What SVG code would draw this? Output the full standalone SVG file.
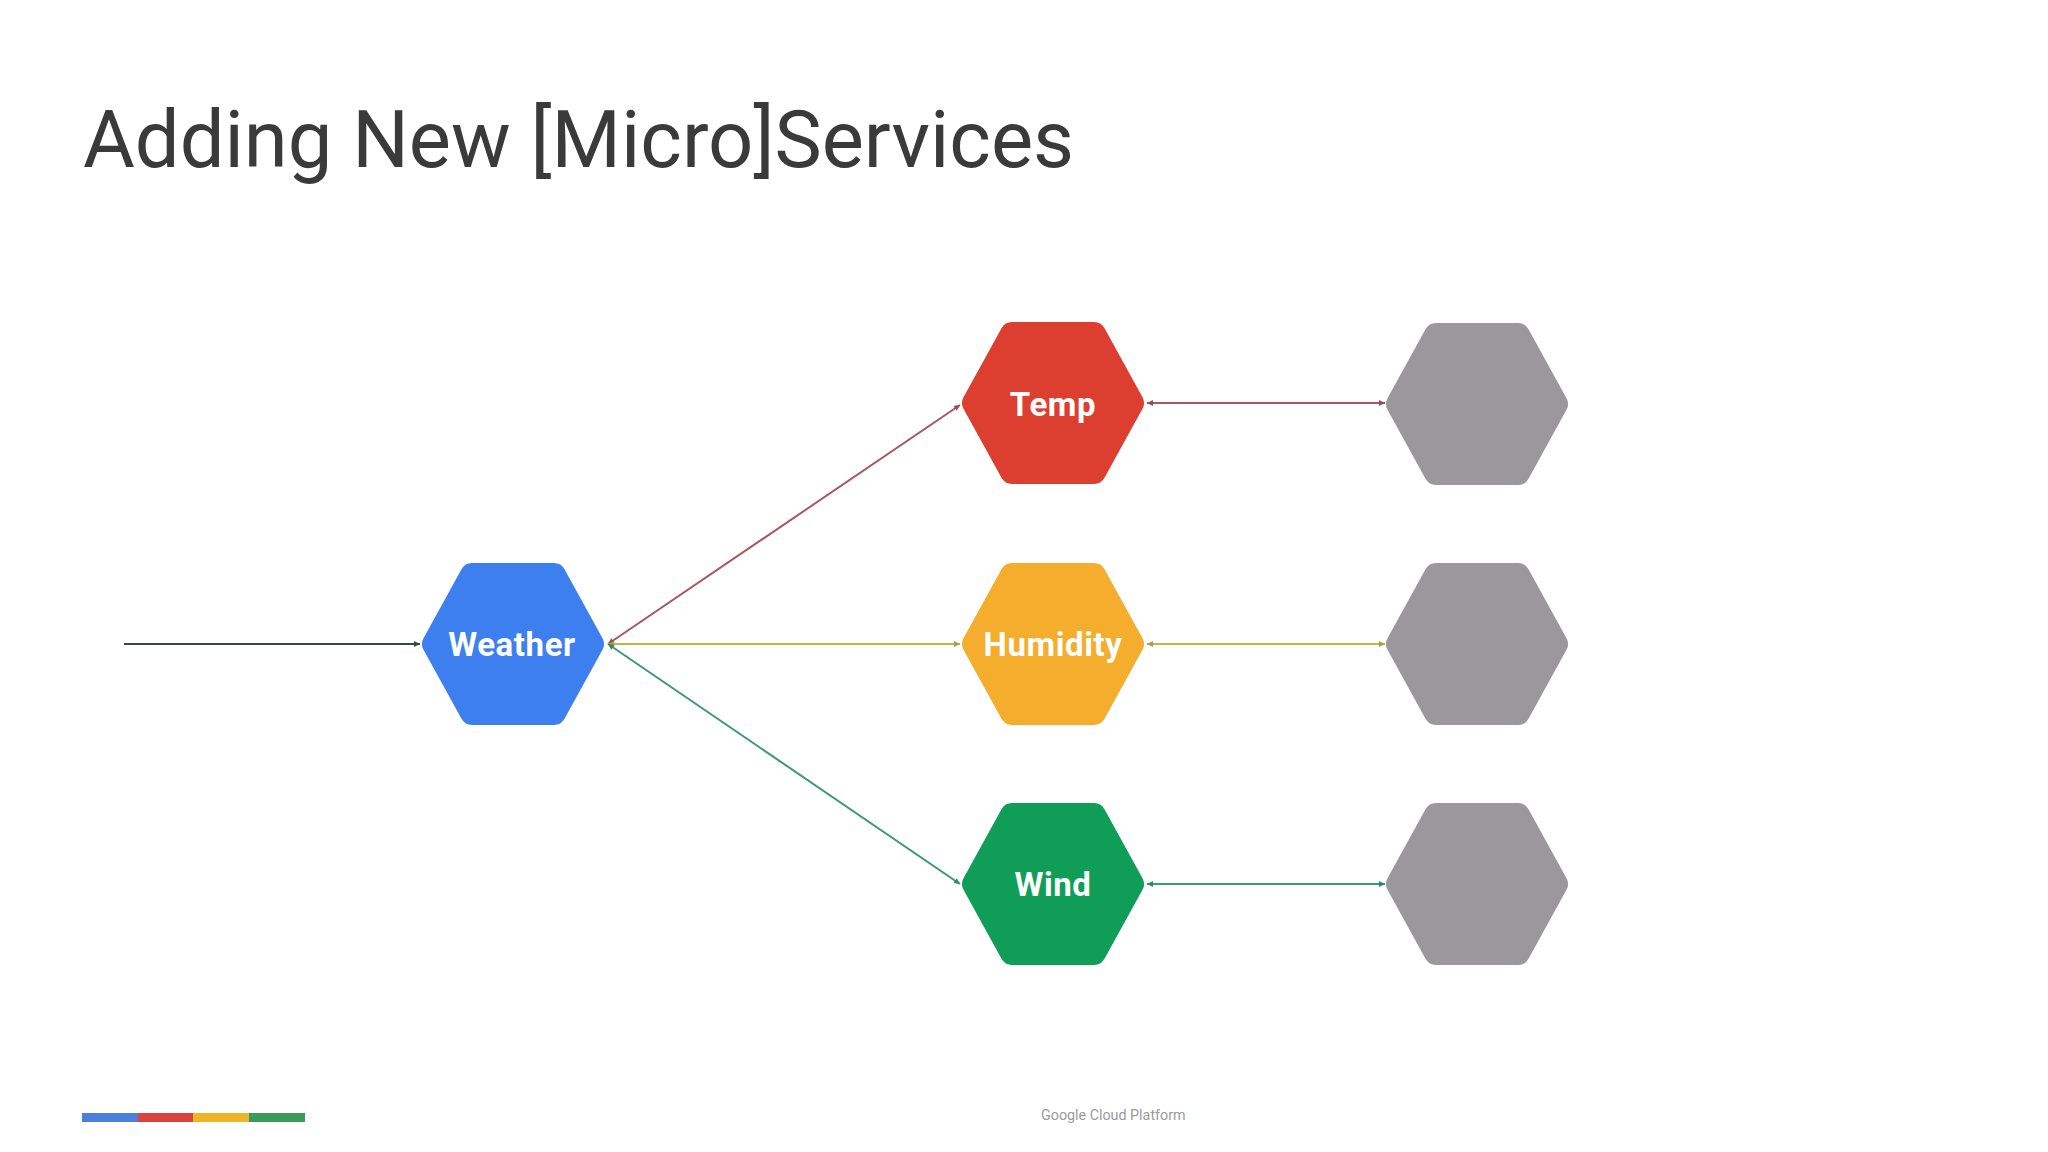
<svg xmlns="http://www.w3.org/2000/svg" width="2048" height="1152" viewBox="0 0 2048 1152">
<style>
.label{font-family:Roboto,"Liberation Sans",sans-serif;font-weight:700;font-size:33px;letter-spacing:.6px;fill:#fff;text-anchor:middle}
.hex{stroke-width:24;stroke-linejoin:round}
.c{fill:none;stroke-width:2}
</style>
<defs>
<path id="h" d="M-79 0L-41 -69H41L79 0L41 69H-41Z"/>
<marker id="ad" markerWidth="8" markerHeight="8" refX="6" refY="3" orient="auto" markerUnits="userSpaceOnUse"><path d="M0 0L6 3L0 6Z" fill="#37474f"/></marker>
<marker id="ar" markerWidth="8" markerHeight="8" refX="6" refY="3" orient="auto" markerUnits="userSpaceOnUse"><path d="M0 0L6 3L0 6Z" fill="#9a4a50"/></marker>
<marker id="ay" markerWidth="8" markerHeight="8" refX="6" refY="3" orient="auto" markerUnits="userSpaceOnUse"><path d="M0 0L6 3L0 6Z" fill="#b59a45"/></marker>
<marker id="ag" markerWidth="8" markerHeight="8" refX="6" refY="3" orient="auto" markerUnits="userSpaceOnUse"><path d="M0 0L6 3L0 6Z" fill="#2f8a62"/></marker>
<marker id="sr" markerWidth="8" markerHeight="8" refX="0" refY="3" orient="auto" markerUnits="userSpaceOnUse"><path d="M6 0L0 3L6 6Z" fill="#9a4a50"/></marker>
<marker id="sy" markerWidth="8" markerHeight="8" refX="0" refY="3" orient="auto" markerUnits="userSpaceOnUse"><path d="M6 0L0 3L6 6Z" fill="#b59a45"/></marker>
<marker id="sg" markerWidth="8" markerHeight="8" refX="0" refY="3" orient="auto" markerUnits="userSpaceOnUse"><path d="M6 0L0 3L6 6Z" fill="#2f8a62"/></marker>
</defs>
<rect width="2048" height="1152" fill="#fff"/>
<text x="83" y="167" font-family="Roboto,'Liberation Sans',sans-serif" font-size="79.5" fill="#3a3a3a">Adding New [Micro]Services</text>
<g id="connectors">
<line class="c" x1="124" y1="644" x2="420" y2="644" stroke="#37474f" marker-end="url(#ad)"/>
<line class="c" x1="608" y1="644" x2="960" y2="405" stroke="#a8585c" marker-start="url(#sr)" marker-end="url(#ar)"/>
<line class="c" x1="608" y1="644" x2="960" y2="644" stroke="#d1ad4f" marker-start="url(#sy)" marker-end="url(#ay)"/>
<line class="c" x1="608" y1="644" x2="960" y2="884" stroke="#3a9a72" marker-start="url(#sg)" marker-end="url(#ag)"/>
<line class="c" x1="1147" y1="403" x2="1385" y2="403" stroke="#a8585c" marker-start="url(#sr)" marker-end="url(#ar)"/>
<line class="c" x1="1147" y1="644" x2="1385" y2="644" stroke="#d1ad4f" marker-start="url(#sy)" marker-end="url(#ay)"/>
<line class="c" x1="1147" y1="884" x2="1385" y2="884" stroke="#3a9a72" marker-start="url(#sg)" marker-end="url(#ag)"/>
</g>
<g id="weather"><use href="#h" class="hex" transform="translate(513 644)" fill="#3e7ff0" stroke="#3e7ff0"/><text class="label" x="512" y="656">Weather</text></g>
<g id="temp"><use href="#h" class="hex" transform="translate(1053 403)" fill="#dc3e30" stroke="#dc3e30"/><text class="label" x="1053" y="416">Temp</text></g>
<g id="humidity"><use href="#h" class="hex" transform="translate(1053 644)" fill="#f4ad2c" stroke="#f4ad2c"/><text class="label" x="1053" y="656">Humidity</text></g>
<g id="wind"><use href="#h" class="hex" transform="translate(1053 884)" fill="#109d58" stroke="#109d58"/><text class="label" x="1053" y="896">Wind</text></g>
<g id="service-1"><use href="#h" class="hex" transform="translate(1477 404)" fill="#9a989b" stroke="#9a989b"/></g>
<g id="service-2"><use href="#h" class="hex" transform="translate(1477 644)" fill="#9a989b" stroke="#9a989b"/></g>
<g id="service-3"><use href="#h" class="hex" transform="translate(1477 884)" fill="#9a989b" stroke="#9a989b"/></g>
<g id="footer">
<rect x="82" y="1113" width="56" height="9" fill="#4a7fdc"/>
<rect x="138" y="1113" width="55" height="9" fill="#d9453c"/>
<rect x="193" y="1113" width="56" height="9" fill="#f0b429"/>
<rect x="249" y="1113" width="56" height="9" fill="#3a9a5c"/>
<text x="1041" y="1120" font-family="Roboto,'Liberation Sans',sans-serif" font-size="14.3" fill="#9a9a9a">Google Cloud Platform</text>
</g>
</svg>
